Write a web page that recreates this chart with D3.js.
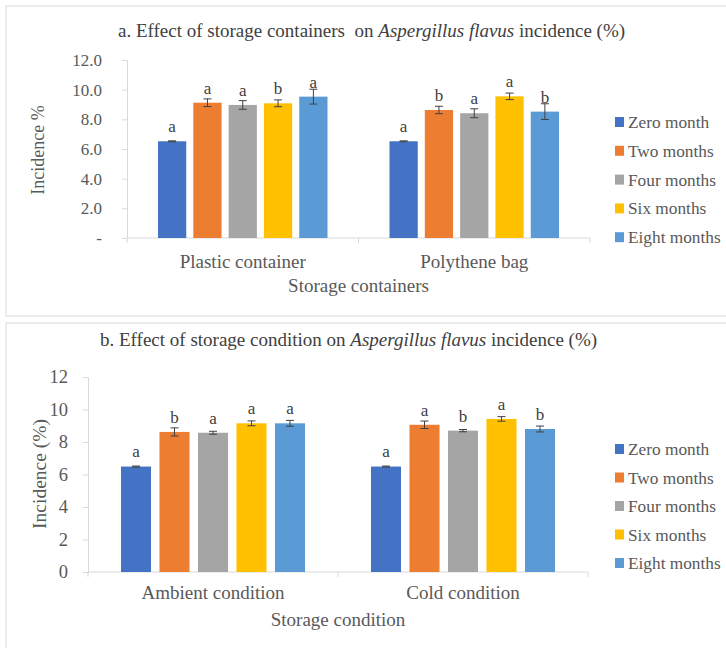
<!DOCTYPE html>
<html><head><meta charset="utf-8">
<script src="https://cdn.jsdelivr.net/npm/d3@7"></script>
<style>body{margin:0;background:#fff}svg{display:block}</style>
</head><body>
<svg id="chart" width="726" height="648"></svg>
<script>
const seriesNames = ["Zero month","Two months","Four months","Six months","Eight months"];
const seriesColors = ["#4472C4","#ED7D31","#A5A5A5","#FFC000","#5B9BD5"];

const containerCats = ["Plastic container","Polythene bag"];
const containerMeans = [[6.52,9.12,8.97,9.08,9.53],[6.52,8.63,8.41,9.55,8.52]];
const containerErrs = [[0.03,0.26,0.29,0.23,0.50],[0.03,0.25,0.30,0.22,0.53]];
const containerLetters = [["a","a","a","b","a"],["a","b","a","a","b"]];
const containerTicks = [0,2,4,6,8,10,12];
const containerTickLabels = ["-","2.0","4.0","6.0","8.0","10.0","12.0"];

const conditionCats = ["Ambient condition","Cold condition"];
const conditionMeans = [[6.49,8.62,8.57,9.15,9.15],[6.49,9.06,8.70,9.42,8.80]];
const conditionErrs = [[0.03,0.25,0.09,0.15,0.18],[0.03,0.23,0.07,0.14,0.18]];
const conditionLetters = [["a","b","a","a","a"],["a","a","b","a","b"]];
const conditionTicks = [0,2,4,6,8,10,12];
const conditionTickLabels = ["0","2","4","6","8","10","12"];

const svg = d3.select("#chart");
const FONT = "'Liberation Serif','Times New Roman',serif";
const TXT = "#595959";

function panel(o){
  const g = svg.append("g");
  g.append("rect").attr("x",o.box[0]).attr("y",o.box[1]).attr("width",o.box[2]).attr("height",o.box[3])
    .attr("fill","#fff").attr("stroke","#d9d9d9").attr("stroke-width",1);
  // title
  const t = g.append("text").attr("x",o.titleX).attr("y",o.titleY).attr("font-family",FONT)
    .attr("font-size",19).attr("fill","#404040");
  t.append("tspan").text(o.titlePre);
  t.append("tspan").attr("font-style","italic").text("Aspergillus flavus");
  t.append("tspan").text(" incidence (%)");

  const y = d3.scaleLinear().domain([0,12]).range([o.y0,o.y12]);
  const x0 = d3.scaleBand().domain(o.cats).range([o.xL,o.xR]).paddingInner(0).paddingOuter(0);
  const x1 = d3.scaleBand().domain(seriesNames).range([o.gpad, x0.bandwidth()-o.gpad]).paddingInner(o.inner).paddingOuter(0);

  // y axis
  const ya = d3.axisLeft(y).tickValues(o.ticks).tickFormat((d,i)=>o.tickLabels[i]).tickSize(5).tickPadding(o.tickPad);
  const yg = g.append("g").attr("transform",`translate(${o.xL},0)`).call(ya);
  yg.select(".domain").attr("stroke","#d9d9d9");
  yg.selectAll(".tick line").attr("stroke","#d9d9d9");
  yg.selectAll("text").attr("font-family",FONT).attr("font-size",o.tickFs).attr("fill",TXT);

  // x axis
  const xa = d3.axisBottom(x0).tickSize(0).tickFormat("");
  const xg = g.append("g").attr("transform",`translate(0,${o.y0})`).call(xa);
  xg.select(".domain").attr("stroke","#d9d9d9").attr("d",`M${o.xL},0H${o.xR}`);
  o.cats.forEach(c=>{
    g.append("text").attr("x",x0(c)+x0.bandwidth()/2).attr("y",o.catY).attr("text-anchor","middle")
      .attr("font-family",FONT).attr("font-size",19).attr("fill",TXT).text(c);
  });
  const seps = [o.xL, ...o.cats.map(c=>x0(c)+x0.bandwidth())];
  g.selectAll(".sep").data(seps).enter().append("line")
    .attr("x1",d=>d).attr("x2",d=>d).attr("y1",o.y0).attr("y2",o.y0+5).attr("stroke","#d9d9d9");

  // bars
  o.cats.forEach((c,ci)=>{
    const gg = g.append("g").attr("transform",`translate(${x0(c)},0)`);
    seriesNames.forEach((s,si)=>{
      const v = o.means[ci][si], e = o.errs[ci][si];
      const bx = x1(s), bw = x1.bandwidth(), cx = bx+bw/2;
      gg.append("rect").attr("x",bx).attr("y",y(v)).attr("width",bw).attr("height",y(0)-y(v))
        .attr("fill",seriesColors[si]);
      gg.append("line").attr("x1",cx).attr("x2",cx).attr("y1",y(v+e)).attr("y2",y(v-e)).attr("stroke","#404040");
      [v+e,v-e].forEach(w=>gg.append("line").attr("x1",cx-4).attr("x2",cx+4).attr("y1",y(w)).attr("y2",y(w)).attr("stroke","#404040"));
      gg.append("text").attr("x",cx).attr("y",y(v)-15).attr("dy","0.35em").attr("text-anchor","middle")
        .attr("font-family",FONT).attr("font-size",17).attr("fill","#404040").text(o.letters[ci][si]);
    });
  });

  // axis titles
  g.append("text").attr("transform",`translate(${o.yTitleX},${o.yTitleY}) rotate(-90)`).attr("text-anchor","middle")
    .attr("font-family",FONT).attr("font-size",o.yTitleFs).attr("fill",TXT).text(o.yTitle);
  g.append("text").attr("x",(o.xL+o.xR)/2).attr("y",o.xTitleY).attr("text-anchor","middle")
    .attr("font-family",FONT).attr("font-size",19).attr("fill",TXT).text(o.xTitle);

  // legend
  const lg = g.append("g");
  seriesNames.forEach((s,i)=>{
    const ly = o.legY + i*o.legStep;
    lg.append("rect").attr("x",615).attr("y",ly-5).attr("width",9).attr("height",10).attr("fill",seriesColors[i]);
    lg.append("text").attr("x",628).attr("y",ly).attr("dy","0.35em").attr("font-family",FONT)
      .attr("font-size",17.3).attr("fill",TXT).text(s);
  });
}

panel({box:[6,6,730,310], titleX:118, titleY:37, titlePre:"a. Effect of storage containers \u00a0on ",
  cats:containerCats, means:containerMeans, errs:containerErrs, letters:containerLetters,
  ticks:containerTicks, tickLabels:containerTickLabels, tickFs:17, tickPad:20,
  y0:238, y12:60, xL:127, xR:590, gpad:31, inner:0.2,
  yTitle:"Incidence %", yTitleX:44, yTitleY:150, yTitleFs:18, catY:268, xTitle:"Storage containers", xTitleY:292,
  legY:122, legStep:28.8});

panel({box:[6,323,730,340], titleX:100, titleY:346, titlePre:"b. Effect of storage condition on ",
  cats:conditionCats, means:conditionMeans, errs:conditionErrs, letters:conditionLetters,
  ticks:conditionTicks, tickLabels:conditionTickLabels, tickFs:18.5, tickPad:15,
  y0:572, y12:377, xL:88, xR:588, gpad:33, inner:0.22,
  yTitle:"Incidence (%)", yTitleX:46, yTitleY:474, yTitleFs:19.5, catY:599, xTitle:"Storage condition", xTitleY:626,
  legY:449, legStep:28.5});
</script>
</body></html>
